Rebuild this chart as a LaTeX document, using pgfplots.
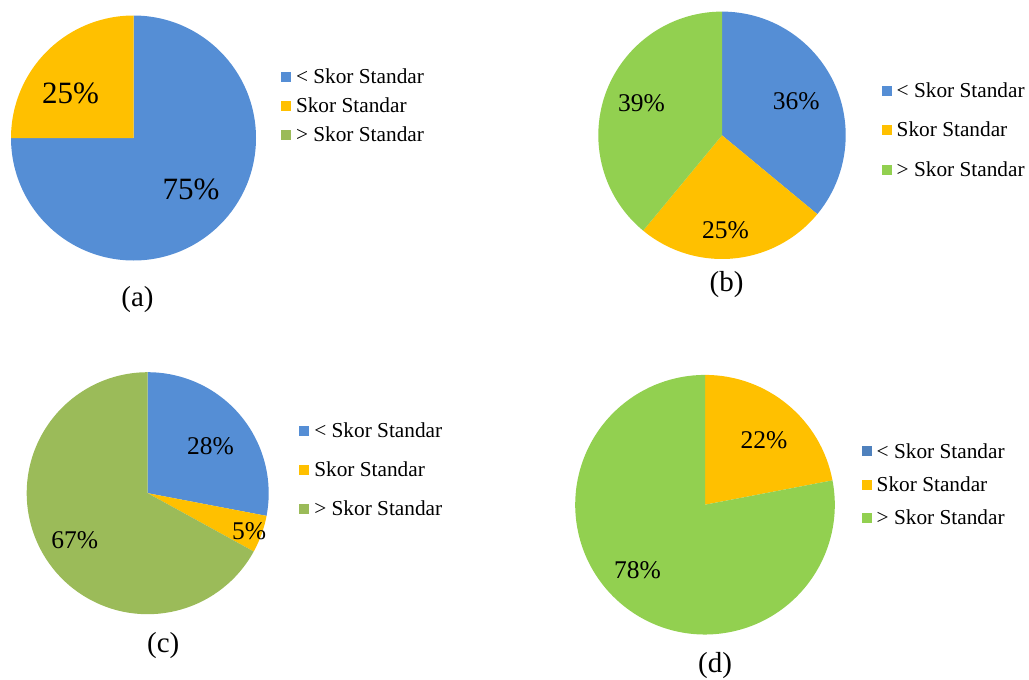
\documentclass[border=0pt]{standalone}
\usepackage{pgfplots}
\pgfplotsset{compat=1.18}
\usepackage{pgfplotstable}
\usepackage{fontspec}
\setmainfont{Liberation Serif}

\definecolor{pblue}{HTML}{558ED5}
\definecolor{pblueD}{HTML}{4F81BD}
\definecolor{porange}{HTML}{FFC000}
\definecolor{pgreen}{HTML}{92D050}
\definecolor{polive}{HTML}{9BBB59}

% shares per category (percent); lr = label radius, off = label angle shift
\pgfplotstableread{
part pct lr    off
lt   75  0.628 3.4
eq   25  0.632 9.5
gt   0   0     0
}\pieA
\pgfplotstableread{
part pct lr    off
lt   36  0.66  -0.5
eq   25  0.77  -3.3
gt   39  0.70  -2
}\pieB
\pgfplotstableread{
part pct lr    off
lt   28  0.647 -3
eq   5   0.895 -0.9
gt   67  0.717 2.1
}\pieC
\pgfplotstableread{
part pct lr    off
lt   0   0     0
eq   22  0.674 -2.7
gt   78  0.724 -6.4
}\pieD

\newcommand\labA{\fontsize{31}{36}\selectfont}
\newcommand\labB{\fontsize{25.5}{30}\selectfont}
\newcommand\legfont{\fontsize{21.3}{25}\selectfont}
\newcommand\capfont{\fontsize{29}{34}\selectfont}

% slices start at 12 o'clock and run clockwise
\newcommand\drawpie[5]{%
  \def\pcum{0}%
  \pgfplotsforeachungrouped \k in {0,1,2}{%
    \pgfplotstablegetelem{\k}{pct}\of#1\let\pv\pgfplotsretval
    \pgfplotstablegetelem{\k}{lr}\of#1\let\plr\pgfplotsretval
    \pgfplotstablegetelem{\k}{off}\of#1\let\poff\pgfplotsretval
    \ifcase\k\relax \def\pcol{#2}\or \def\pcol{#3}\or \def\pcol{#4}\fi
    \pgfmathsetmacro\psa{90-3.6*\pcum}%
    \pgfmathsetmacro\pse{90-3.6*(\pcum+\pv)}%
    \pgfmathsetmacro\pma{(\psa+\pse)/2+\poff}%
    \pgfmathsetmacro\plx{\plr*cos(\pma)}%
    \pgfmathsetmacro\ply{\plr*sin(\pma)}%
    \pgfmathsetmacro\psx{cos(\psa)}%
    \pgfmathsetmacro\psy{sin(\psa)}%
    \ifdim\pv pt>0pt
      \edef\pcmd{\noexpand\fill[\pcol] (axis cs:0,0) -- (axis cs:\psx,\psy)
        arc[start angle=\psa, end angle=\pse, radius=1] -- cycle;
        \noexpand\node[font=\noexpand#5, inner sep=0pt] at (axis cs:\plx,\ply) {\pv\noexpand\%};}%
      \pcmd
    \fi
    \pgfmathsetmacro\pcum{\pcum+\pv}%
  }}

\pgfplotsset{
  pieaxis/.style={
    hide axis, scale only axis, clip=false, anchor=origin,
    xmin=-1, xmax=1, ymin=-1, ymax=1,
    legend cell align=left,
    legend image code/.code={\fill[##1, draw=none] (0pt,-5pt) rectangle (10pt,5pt);},
    legend style={draw=none, fill=none, inner sep=0pt, outer sep=0pt,
      anchor=west, column sep=5pt, font=\legfont,
      nodes={inner sep=0pt, outer sep=0pt}},
  },
}

\begin{document}
\begin{tikzpicture}
\useasboundingbox (0pt,0pt) rectangle (1029pt,-680pt);

% (a)  legend position is measured from the axis' lower left corner
\begin{axis}[pieaxis, at={(133.5pt,-138pt)}, width=245pt, height=245pt,
  legend style={at={(270pt,154.7pt)}, row sep=12.8pt}]
  \drawpie{\pieA}{pblue}{porange}{polive}{\labA}
  \addlegendimage{fill=pblue}\addlegendentry{< Skor Standar}
  \addlegendimage{fill=porange}\addlegendentry{Skor Standar}
  \addlegendimage{fill=polive}\addlegendentry{> Skor Standar}
\end{axis}
\node[font=\capfont, inner sep=0pt] at (137.5pt,-299.5pt) {(a)};

% (b)
\begin{axis}[pieaxis, at={(722pt,-135.3pt)}, width=247.4pt, height=247.4pt,
  legend style={at={(283.4pt,128.7pt)}, row sep=23.4pt}]
  \drawpie{\pieB}{pblue}{porange}{pgreen}{\labB}
  \addlegendimage{fill=pblue}\addlegendentry{< Skor Standar}
  \addlegendimage{fill=porange}\addlegendentry{Skor Standar}
  \addlegendimage{fill=pgreen}\addlegendentry{> Skor Standar}
\end{axis}
\node[font=\capfont, inner sep=0pt] at (726.5pt,-285pt) {(b)};

% (c)
\begin{axis}[pieaxis, at={(147.7pt,-493.2pt)}, width=242pt, height=242pt,
  legend style={at={(272.6pt,144.2pt)}, row sep=22.6pt}]
  \drawpie{\pieC}{pblue}{porange}{polive}{\labB}
  \addlegendimage{fill=pblue}\addlegendentry{< Skor Standar}
  \addlegendimage{fill=porange}\addlegendentry{Skor Standar}
  \addlegendimage{fill=polive}\addlegendentry{> Skor Standar}
\end{axis}
\node[font=\capfont, inner sep=0pt] at (163.3pt,-646pt) {(c)};

% (d)
\begin{axis}[pieaxis, at={(705pt,-504.7pt)}, width=259.6pt, height=259.6pt,
  legend style={at={(286.5pt,149.8pt)}, row sep=17pt}]
  \drawpie{\pieD}{pblueD}{porange}{pgreen}{\labB}
  \addlegendimage{fill=pblueD}\addlegendentry{< Skor Standar}
  \addlegendimage{fill=porange}\addlegendentry{Skor Standar}
  \addlegendimage{fill=pgreen}\addlegendentry{> Skor Standar}
\end{axis}
\node[font=\capfont, inner sep=0pt] at (715pt,-666pt) {(d)};
\end{tikzpicture}
\end{document}
